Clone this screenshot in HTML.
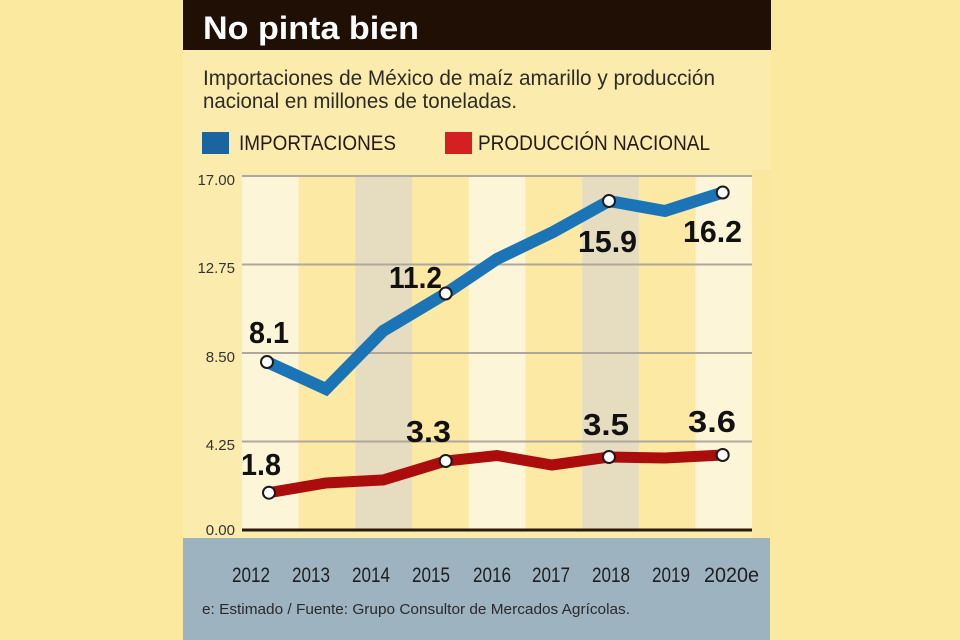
<!DOCTYPE html>
<html>
<head>
<meta charset="utf-8">
<style>
  html, body { margin: 0; padding: 0; background: #fbe9a0; }
  svg { display: block; }
  text { font-family: "Liberation Sans", sans-serif; }
</style>
</head>
<body>
<svg width="960" height="640" viewBox="0 0 960 640" xmlns="http://www.w3.org/2000/svg">
  <!-- outer background -->
  <rect x="0" y="0" width="960" height="640" fill="#fbe9a0"/>
  <!-- panel -->
  <rect x="183" y="0" width="587" height="640" fill="#fbecae"/>
  <!-- title bar -->
  <rect x="183" y="0" width="588" height="50" fill="#1f0f05"/>
  <text x="203" y="39" font-size="32" font-weight="bold" fill="#ffffff" textLength="216" lengthAdjust="spacingAndGlyphs">No pinta bien</text>

  <!-- subtitle -->
  <text x="203" y="85" font-size="21" fill="#2e2a26" textLength="512" lengthAdjust="spacingAndGlyphs">Importaciones de México de maíz amarillo y producción</text>
  <text x="203" y="108" font-size="21" fill="#2e2a26" textLength="314" lengthAdjust="spacingAndGlyphs">nacional en millones de toneladas.</text>

  <!-- legend -->
  <rect x="202" y="132" width="27" height="22" fill="#1b64a2"/>
  <text x="239" y="150" font-size="21" fill="#231a12" textLength="157" lengthAdjust="spacingAndGlyphs">IMPORTACIONES</text>
  <rect x="445" y="132" width="27" height="22" fill="#d42020"/>
  <text x="478" y="150" font-size="21" fill="#231a12" textLength="232" lengthAdjust="spacingAndGlyphs">PRODUCCIÓN NACIONAL</text>

  <!-- right strip in chart zone -->
  <rect x="752" y="170" width="18" height="368" fill="#fbe8a0"/>

  <!-- columns -->
  <rect x="242" y="176" width="56.7" height="354" fill="#fdf5d8"/>
  <rect x="298.7" y="176" width="56.7" height="354" fill="#fbe9a4"/>
  <rect x="355.4" y="176" width="56.7" height="354" fill="#e6dcc0"/>
  <rect x="412.1" y="176" width="56.7" height="354" fill="#fbe9a4"/>
  <rect x="468.8" y="176" width="56.7" height="354" fill="#fdf5d8"/>
  <rect x="525.5" y="176" width="56.7" height="354" fill="#fbe9a4"/>
  <rect x="582.2" y="176" width="56.7" height="354" fill="#e6dcc0"/>
  <rect x="638.9" y="176" width="56.7" height="354" fill="#fbe9a4"/>
  <rect x="695.6" y="176" width="56.4" height="354" fill="#fdf5d8"/>

  <!-- gridlines -->
  <g stroke="#aea79b" stroke-width="2">
    <line x1="242" y1="176" x2="752" y2="176"/>
    <line x1="242" y1="264.5" x2="752" y2="264.5"/>
    <line x1="242" y1="353" x2="752" y2="353"/>
    <line x1="242" y1="441.5" x2="752" y2="441.5"/>
  </g>
  <line x1="242" y1="530" x2="752" y2="530" stroke="#2a1a0c" stroke-width="3"/>

  <!-- y tick labels -->
  <g font-size="15" fill="#333" text-anchor="end">
    <text x="235" y="185">17.00</text>
    <text x="235" y="273">12.75</text>
    <text x="235" y="362">8.50</text>
    <text x="235" y="450">4.25</text>
    <text x="235" y="535">0.00</text>
  </g>

  <!-- footer -->
  <rect x="183" y="538" width="587" height="102" fill="#9db3bf"/>
  <g font-size="21" fill="#1e1e1e">
    <text x="232" y="582" textLength="38" lengthAdjust="spacingAndGlyphs">2012</text>
    <text x="292" y="582" textLength="38" lengthAdjust="spacingAndGlyphs">2013</text>
    <text x="352" y="582" textLength="38" lengthAdjust="spacingAndGlyphs">2014</text>
    <text x="412" y="582" textLength="38" lengthAdjust="spacingAndGlyphs">2015</text>
    <text x="473" y="582" textLength="38" lengthAdjust="spacingAndGlyphs">2016</text>
    <text x="532" y="582" textLength="38" lengthAdjust="spacingAndGlyphs">2017</text>
    <text x="592" y="582" textLength="38" lengthAdjust="spacingAndGlyphs">2018</text>
    <text x="652" y="582" textLength="38" lengthAdjust="spacingAndGlyphs">2019</text>
    <text x="704" y="582" textLength="55" lengthAdjust="spacingAndGlyphs">2020e</text>
  </g>
  <text x="202" y="614" font-size="15" fill="#2a2a2a" textLength="428" lengthAdjust="spacingAndGlyphs">e: Estimado / Fuente: Grupo Consultor de Mercados Agrícolas.</text>

  <!-- series lines -->
  <polyline fill="none" stroke="#1b74b5" stroke-width="12" stroke-linejoin="miter" stroke-miterlimit="6"
    points="267,362 326,389 383,331 445.7,293.5 497,259 553,232 609,201 665,211 722.7,192.5"/>
  <polyline fill="none" stroke="#ab0d0d" stroke-width="11" stroke-linejoin="miter" stroke-miterlimit="6"
    points="269,492.7 326,483 383,480 445.7,461 497,455.5 552,465 609,457 665,458 722.7,455"/>

  <!-- markers -->
  <g fill="#ffffff" stroke="#1a1a1a" stroke-width="2">
    <circle cx="267" cy="362" r="6"/>
    <circle cx="445.7" cy="293.5" r="6"/>
    <circle cx="609" cy="201" r="6"/>
    <circle cx="722.7" cy="192.5" r="6"/>
    <circle cx="269" cy="492.7" r="6"/>
    <circle cx="445.7" cy="461" r="6"/>
    <circle cx="609" cy="457" r="6"/>
    <circle cx="722.7" cy="455" r="6"/>
  </g>

  <!-- data labels -->
  <g font-size="31" font-weight="bold" fill="#111111">
    <text x="249" y="343" textLength="40" lengthAdjust="spacingAndGlyphs">8.1</text>
    <text x="389" y="288" textLength="53" lengthAdjust="spacingAndGlyphs">11.2</text>
    <text x="578" y="252" textLength="59" lengthAdjust="spacingAndGlyphs">15.9</text>
    <text x="683" y="242" textLength="59" lengthAdjust="spacingAndGlyphs">16.2</text>
    <text x="241" y="475" textLength="40" lengthAdjust="spacingAndGlyphs">1.8</text>
    <text x="406" y="442" textLength="45" lengthAdjust="spacingAndGlyphs">3.3</text>
    <text x="583" y="435" textLength="46" lengthAdjust="spacingAndGlyphs">3.5</text>
    <text x="688" y="432" textLength="48" lengthAdjust="spacingAndGlyphs">3.6</text>
  </g>
</svg>
</body>
</html>
